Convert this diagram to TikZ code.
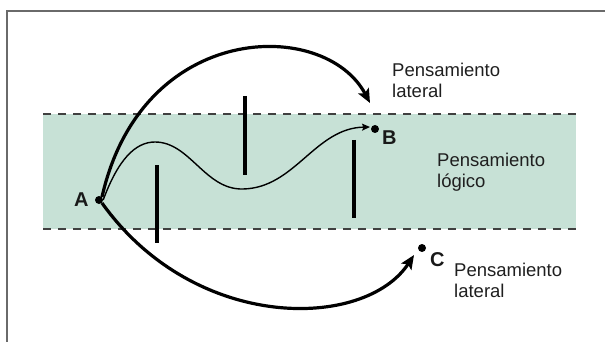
\documentclass[tikz,border=0pt]{standalone}
\usepackage{fontspec}
\setmainfont{Liberation Sans}
\usetikzlibrary{arrows.meta,positioning}
\definecolor{bandgreen}{HTML}{C7E1D6}
\definecolor{framegray}{HTML}{6A6A6A}
\tikzset{
  ptdot/.style={circle, fill=black, inner sep=0pt, minimum size=8pt},
  ptlabel/.style={font=\fontsize{20}{22}\selectfont\bfseries, text=black!90, inner sep=0pt},
  txtlabel/.style={font=\fontsize{18.5}{21}\selectfont, text=black!88, align=left, inner sep=0pt, anchor=north west},
  thickarrow/.style={-{Stealth[length=14pt, width=12pt, inset=3pt]}, line width=3.2pt},
  thinarrow/.style={-{Stealth[length=8pt, width=7pt, inset=1.5pt]}, line width=1.4pt},
  barline/.style={line width=4pt},
  bandedge/.style={dash pattern=on 8pt off 7pt, line width=1.5pt, draw=black!75},
}
\begin{document}
\begin{tikzpicture}[x=1pt, y=-1pt]
  \useasboundingbox (0,0) rectangle (605,342);
  % frame and band
  \draw[framegray, line width=1.6pt] (7,342) -- (7,11) -- (605,11);
  \fill[bandgreen] (43,114) rectangle (576,229);
  \draw[bandedge] (43,114) -- (576,114);
  \draw[bandedge] (43,229) -- (576,229);

  % points
  \node[ptdot] (A) at (99,200) {};
  \node[ptdot] (B) at (375,129) {};
  \node[ptdot] (C) at (422,248) {};
  \node[ptlabel, left=6pt of A] (Alab) {A};
  \node[ptlabel, below right=2pt and 7pt of B.center, anchor=north west] (Blab) {B};
  \node[ptlabel, below right=4pt and 8pt of C.center, anchor=north west] (Clab) {C};

  % arrow ends
  \coordinate (upend) at (370,103);
  \coordinate (lowend) at (414,255);
  \coordinate (waveend) at (370,127);

  % barriers
  \draw[barline] (157,165) -- (157,243);
  \draw[barline] (245,96) -- (245,175);
  \draw[barline] (354,140) -- (354,218);

  % lateral thinking
  \draw[thickarrow] (A.north east) .. controls (142,20) and (325,18) .. (upend);
  \draw[thickarrow] (A.south east) .. controls (195,333) and (365,330) .. (lowend);

  % logical thinking
  \draw[thinarrow] (A.east) .. controls (118,160) and (135,142) .. (155,142)
    .. controls (190,142) and (205,190) .. (243,189)
    .. controls (295,188) and (315,128) .. (waveend);

  % texts
  \node[txtlabel] (toplat) at (392,63) {Pensamiento\\lateral};
  \node[txtlabel] (logic) at (437,153) {Pensamiento\\lógico};
  \node[txtlabel] (botlat) at (454,263) {Pensamiento\\lateral};
\end{tikzpicture}
\end{document}
